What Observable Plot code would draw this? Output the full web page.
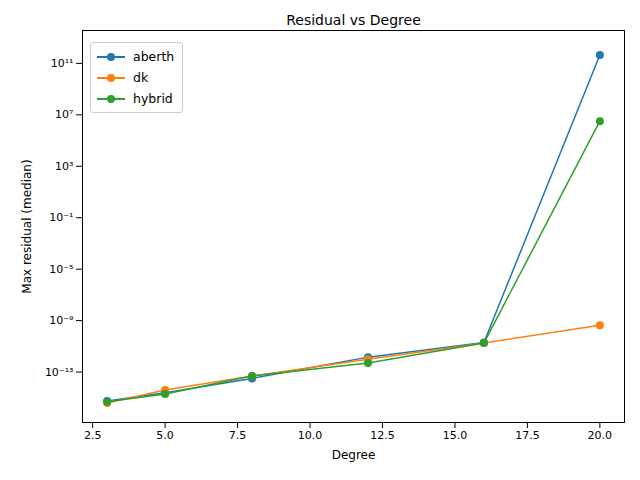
<!DOCTYPE html>
<html>
<head>
<meta charset="utf-8">
<script src="https://cdn.jsdelivr.net/npm/d3@7"></script>
<script src="https://cdn.jsdelivr.net/npm/@observablehq/plot@0.6"></script>
<style>
  body { margin: 0; background: #fff; font-family: "DejaVu Sans", sans-serif; }
  #wrap { position: relative; width: 640px; height: 480px; }
  #legend { position: absolute; left: 90px; top: 42px; background: rgba(255,255,255,0.8);
    border: 1px solid #ccc; border-radius: 3px; padding: 3px 8px 3px 6px; font-size: 12.5px; }
  .row { display: flex; align-items: center; height: 21px; }
  .key { position: relative; width: 28px; height: 12px; margin-right: 8px; }
  .key .ln { position: absolute; top: 5.5px; left: 0; width: 28px; height: 1.5px; }
  .key .dt { position: absolute; top: 2px; left: 10px; width: 8px; height: 8px; border-radius: 50%; }
</style>
</head>
<body>
<div id="wrap"><div id="chart"></div><div id="legend"></div></div>
<script>
const degrees = [3, 5, 8, 12, 16, 20];
const aberth = [5.6e-16, 2.5e-15, 3.2e-14, 1.45e-12, 2e-11, 4.5e11];
const dk = [4e-16, 4e-15, 5e-14, 1e-12, 1.8e-11, 4.4e-10];
const hybrid = [5e-16, 2e-15, 5e-14, 5e-13, 1.8e-11, 3.2e6];
const seriesNames = ["aberth", "dk", "hybrid"];
const seriesColors = ["#1f77b4", "#ff7f0e", "#2ca02c"];
const yTicks = [1e-13, 1e-9, 1e-5, 1e-1, 1e3, 1e7, 1e11];
const xTicks = [2.5, 5, 7.5, 10, 12.5, 15, 17.5, 20];

const sup = {"-": "⁻", "0": "⁰", "1": "¹", "2": "²", "3": "³", "4": "⁴", "5": "⁵", "6": "⁶", "7": "⁷", "8": "⁸", "9": "⁹"};
const fmtPow = (v) => "10" + String(Math.round(Math.log10(v))).split("").map((c) => sup[c]).join("");

const rows = [];
[aberth, dk, hybrid].forEach((vals, k) => {
  degrees.forEach((d, i) => rows.push({ degree: d, value: vals[i], series: seriesNames[k] }));
});

const fig = Plot.plot({
  width: 640,
  height: 480,
  marginLeft: 82,
  marginRight: 16,
  marginTop: 30,
  marginBottom: 58,
  style: { fontFamily: "DejaVu Sans", fontSize: "11px", color: "#000" },
  x: { domain: [2.15, 20.85], ticks: xTicks, tickFormat: (d) => d.toFixed(1), label: "Degree", labelArrow: "none", labelAnchor: "center", labelOffset: 36 },
  y: { type: "log", domain: [1.2e-17, 3.6e13], ticks: yTicks, tickFormat: fmtPow, label: "Max residual (median)", labelArrow: "none", labelAnchor: "center", labelOffset: 60 },
  color: { domain: seriesNames, range: seriesColors },
  marks: [
    Plot.frame({ stroke: "#000" }),
    Plot.line(rows, { x: "degree", y: "value", stroke: "series", strokeWidth: 1.5 }),
    Plot.dot(rows, { x: "degree", y: "value", fill: "series", r: 4 }),
    Plot.text(["Residual vs Degree"], { frameAnchor: "top", dy: -15, fontSize: 14 }),
  ],
});
document.getElementById("chart").appendChild(fig);
d3.select(fig).selectAll("[aria-label$='axis label'] text, [aria-label$='axis label']").style("font-size", "12px");

const legend = document.getElementById("legend");
seriesNames.forEach((n, k) => {
  legend.insertAdjacentHTML("beforeend",
    `<div class="row"><div class="key"><div class="ln" style="background:${seriesColors[k]}"></div><div class="dt" style="background:${seriesColors[k]}"></div></div>${n}</div>`);
});
</script>
</body>
</html>
